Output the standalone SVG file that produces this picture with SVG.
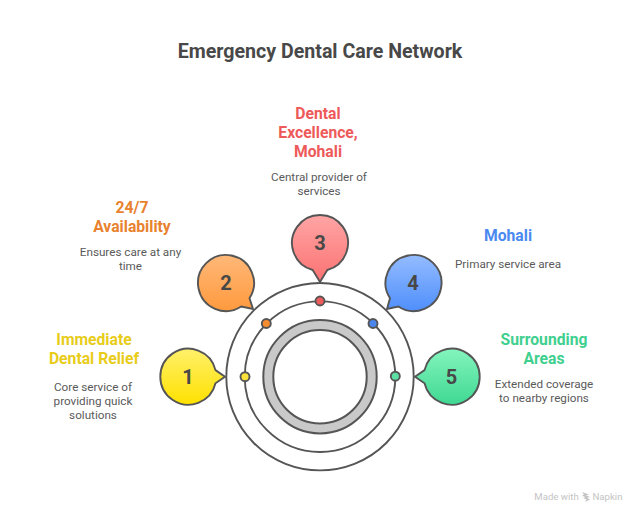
<svg xmlns="http://www.w3.org/2000/svg" width="640" height="518" viewBox="0 0 640 518">
<style>
text{font-family:Roboto,"Liberation Sans",sans-serif;text-anchor:middle}
.t{font-size:15.7px;font-weight:700}
.d{font-size:11.7px;fill:#5a5a5a}
.n{font-size:20px;font-weight:700;fill:#484848}
.s{stroke:#555;stroke-width:1.9}
.c{fill:none;stroke:#555;stroke-width:1.9}
.w{font-size:9.6px;fill:#c4c4c4}
</style>
<defs>
<linearGradient id="g1" x1="0" y1="0" x2="0" y2="1"><stop offset="0" stop-color="#fff06a"/><stop offset="1" stop-color="#ffe100"/></linearGradient>
<linearGradient id="g2" x1="0" y1="0" x2="0" y2="1"><stop offset="0" stop-color="#ffb878"/><stop offset="1" stop-color="#ff9a3e"/></linearGradient>
<linearGradient id="g3" x1="0" y1="0" x2="0" y2="1"><stop offset="0" stop-color="#ffa5a5"/><stop offset="1" stop-color="#fb7272"/></linearGradient>
<linearGradient id="g4" x1="0" y1="0" x2="0" y2="1"><stop offset="0" stop-color="#94bcff"/><stop offset="1" stop-color="#4f8ffb"/></linearGradient>
<linearGradient id="g5" x1="0" y1="0" x2="0" y2="1"><stop offset="0" stop-color="#84f5bd"/><stop offset="1" stop-color="#3fd893"/></linearGradient>
</defs>
<rect width="640" height="518" fill="#fff"/>
<text x="320" y="58" fill="#484848" style="font-size:19.6px;font-weight:700">Emergency Dental Care Network</text>
<g id="connectors">
<circle class="c" cx="320" cy="376.7" r="93.7"/>
<circle class="c" cx="320" cy="376.7" r="75.3"/>
</g>
<g id="hub">
<circle cx="320" cy="376.7" r="51.7" fill="none" stroke="#555" stroke-width="12"/>
<circle cx="320" cy="376.7" r="51.7" fill="none" stroke="#c9c9c9" stroke-width="8"/>
</g>
<g id="node1">
<path class="s" fill="url(#g1)" d="M215.5 370.1A28 28 0 1 0 215.5 383.3L225 376.7Z"/>
<circle class="s" cx="245" cy="376.7" r="4.5" fill="#fde23a"/>
<text class="n" x="188" y="384">1</text>
<text class="t" fill="#e8cc1a" x="94" y="345">Immediate</text>
<text class="t" fill="#e8cc1a" x="94" y="364">Dental Relief</text>
<text class="d" x="93" y="391">Core service of</text>
<text class="d" x="93" y="405">providing quick</text>
<text class="d" x="93" y="419">solutions</text>
</g>
<g id="node2">
<path class="s" fill="url(#g2)" d="M241.2 306.5A28 28 0 1 1 249.5 298.2L253 309Z"/>
<circle class="s" cx="266.3" cy="323.5" r="4.5" fill="#f58c2f"/>
<text class="n" x="226" y="290">2</text>
<text class="t" fill="#e8822e" x="132" y="213">24/7</text>
<text class="t" fill="#e8822e" x="132" y="232">Availability</text>
<text class="d" x="130.500" y="256">Ensures care at any</text>
<text class="d" x="130.500" y="270">time</text>
</g>
<g id="node3">
<path class="s" fill="url(#g3)" d="M312.7 270A28 28 0 1 1 327.3 270L320 282Z"/>
<circle class="s" cx="320" cy="301" r="4.5" fill="#ef5b5b"/>
<text class="n" x="320" y="250">3</text>
<text class="t" fill="#ee5a5a" x="318" y="119">Dental</text>
<text class="t" fill="#ee5a5a" x="318" y="138">Excellence,</text>
<text class="t" fill="#ee5a5a" x="318" y="157">Mohali</text>
<text class="d" x="319" y="181">Central provider of</text>
<text class="d" x="319" y="195">services</text>
</g>
<g id="node4">
<path class="s" fill="url(#g4)" d="M390 298.2A28 28 0 1 1 398.3 306.5L387 309Z"/>
<circle class="s" cx="373" cy="323.5" r="4.5" fill="#4a86ee"/>
<text class="n" x="413" y="290">4</text>
<text class="t" fill="#4a8af0" x="508" y="241">Mohali</text>
<text class="d" x="508" y="268">Primary service area</text>
</g>
<g id="node5">
<path class="s" fill="url(#g5)" d="M424.500 370.100A28 28 0 1 1 424.500 383.300L415 376.700Z"/>
<circle class="s" cx="395.300" cy="376.200" r="4.500" fill="#5de0a5"/>
<text class="n" x="451.500" y="384">5</text>
<text class="t" fill="#3fcf8e" x="544" y="345">Surrounding</text>
<text class="t" fill="#3fcf8e" x="544" y="364">Areas</text>
<text class="d" x="544" y="388">Extended coverage</text>
<text class="d" x="544" y="402">to nearby regions</text>
</g>
<g id="watermark">
<text class="w" x="556.500" y="500">Made with</text>
<path d="M582 492l7 2.500-3 .8 4 1.700-3 .8 3 1.700-5 2.500 1.500-2.500-3.500-1.500 2.500-.8-3.500-1.700 2-.8z" fill="#c4c4c4"/>
<text class="w" x="607.500" y="500">Napkin</text>
</g>
</svg>
